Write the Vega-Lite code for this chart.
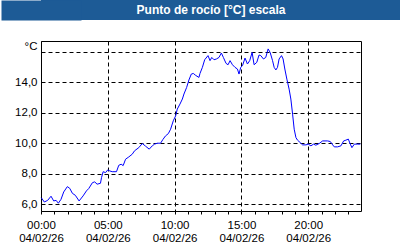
{
  "$schema": "https://vega.github.io/schema/vega-lite/v6.json",
  "background": "white",
  "padding": 0,
  "config": {"font": "Liberation Sans", "view": {"stroke": null}},
  "spacing": 20,
  "vconcat": [
    {
      "width": 360,
      "height": 20,
      "view": {"fill": "#1d5b96", "stroke": null},
      "data": {"values": [{"t": "Punto de rocío [°C] escala"}]},
      "mark": {"type": "text", "color": "white", "font": "Liberation Sans", "fontWeight": "bold", "fontSize": 12, "dx": -10, "baseline": "middle"},
      "encoding": {
        "text": {"field": "t"},
        "y": {
          "field": "t", "type": "nominal",
          "axis": {"title": null, "labels": false, "ticks": false, "domain": true, "domainColor": "#1d5b96", "domainWidth": 80, "minExtent": 40, "maxExtent": 40}
        }
      }
    },
    {
      "width": 320,
      "height": 170,
      "view": {"stroke": "#000", "strokeWidth": 1, "fill": "white"},
      "data": {"values": [
        {"hora": 0.02, "rocio": 6.43}, {"hora": 0.25, "rocio": 6.15}, {"hora": 0.50, "rocio": 6.26}, {"hora": 0.75, "rocio": 6.53},
        {"hora": 0.95, "rocio": 6.22}, {"hora": 1.13, "rocio": 6.26}, {"hora": 1.30, "rocio": 6.07}, {"hora": 1.50, "rocio": 6.33},
        {"hora": 1.70, "rocio": 6.81}, {"hora": 1.97, "rocio": 7.16}, {"hora": 2.15, "rocio": 7.05}, {"hora": 2.35, "rocio": 6.72},
        {"hora": 2.57, "rocio": 6.59}, {"hora": 2.85, "rocio": 6.22}, {"hora": 3.15, "rocio": 6.55}, {"hora": 3.40, "rocio": 6.88},
        {"hora": 3.57, "rocio": 7.03}, {"hora": 3.85, "rocio": 7.42}, {"hora": 4.02, "rocio": 7.47}, {"hora": 4.20, "rocio": 7.32},
        {"hora": 4.45, "rocio": 7.38}, {"hora": 4.53, "rocio": 7.75}, {"hora": 4.65, "rocio": 8.14}, {"hora": 4.83, "rocio": 8.08},
        {"hora": 5.00, "rocio": 8.26}, {"hora": 5.15, "rocio": 8.19}, {"hora": 5.33, "rocio": 8.14}, {"hora": 5.65, "rocio": 8.14},
        {"hora": 5.82, "rocio": 8.56}, {"hora": 6.00, "rocio": 8.63}, {"hora": 6.15, "rocio": 8.54}, {"hora": 6.33, "rocio": 8.96},
        {"hora": 6.57, "rocio": 9.11}, {"hora": 6.83, "rocio": 9.29}, {"hora": 7.00, "rocio": 9.51}, {"hora": 7.32, "rocio": 9.72},
        {"hora": 7.58, "rocio": 9.99}, {"hora": 7.82, "rocio": 9.82}, {"hora": 8.10, "rocio": 9.62}, {"hora": 8.33, "rocio": 9.84},
        {"hora": 8.50, "rocio": 9.95}, {"hora": 8.70, "rocio": 10.01}, {"hora": 8.95, "rocio": 10.01}, {"hora": 9.12, "rocio": 10.25},
        {"hora": 9.32, "rocio": 10.49}, {"hora": 9.53, "rocio": 10.64}, {"hora": 9.70, "rocio": 10.93}, {"hora": 9.90, "rocio": 11.48},
        {"hora": 10.08, "rocio": 11.81}, {"hora": 10.20, "rocio": 12.25}, {"hora": 10.40, "rocio": 12.58}, {"hora": 10.58, "rocio": 12.91},
        {"hora": 10.70, "rocio": 13.24}, {"hora": 10.90, "rocio": 13.67}, {"hora": 11.07, "rocio": 14.16}, {"hora": 11.25, "rocio": 14.55},
        {"hora": 11.40, "rocio": 14.59}, {"hora": 11.58, "rocio": 14.46}, {"hora": 11.82, "rocio": 14.33}, {"hora": 11.90, "rocio": 14.59},
        {"hora": 12.08, "rocio": 14.99}, {"hora": 12.25, "rocio": 15.49}, {"hora": 12.50, "rocio": 15.76}, {"hora": 12.65, "rocio": 15.43},
        {"hora": 12.78, "rocio": 15.64}, {"hora": 12.95, "rocio": 15.49}, {"hora": 13.13, "rocio": 15.54}, {"hora": 13.32, "rocio": 15.64},
        {"hora": 13.50, "rocio": 15.93}, {"hora": 13.65, "rocio": 15.64}, {"hora": 13.85, "rocio": 15.25}, {"hora": 14.00, "rocio": 15.16},
        {"hora": 14.15, "rocio": 15.43}, {"hora": 14.33, "rocio": 15.16}, {"hora": 14.52, "rocio": 14.99}, {"hora": 14.70, "rocio": 14.88},
        {"hora": 14.82, "rocio": 14.55}, {"hora": 14.95, "rocio": 14.99}, {"hora": 15.08, "rocio": 15.10}, {"hora": 15.27, "rocio": 15.60},
        {"hora": 15.45, "rocio": 15.21}, {"hora": 15.62, "rocio": 15.43}, {"hora": 15.80, "rocio": 15.97}, {"hora": 15.95, "rocio": 15.16},
        {"hora": 16.15, "rocio": 15.32}, {"hora": 16.32, "rocio": 15.80}, {"hora": 16.45, "rocio": 15.76}, {"hora": 16.65, "rocio": 15.54},
        {"hora": 16.82, "rocio": 15.64}, {"hora": 17.00, "rocio": 16.20}, {"hora": 17.15, "rocio": 15.97}, {"hora": 17.33, "rocio": 15.43},
        {"hora": 17.45, "rocio": 14.99}, {"hora": 17.58, "rocio": 14.82}, {"hora": 17.70, "rocio": 14.99}, {"hora": 17.82, "rocio": 15.54},
        {"hora": 18.00, "rocio": 15.76}, {"hora": 18.12, "rocio": 15.54}, {"hora": 18.25, "rocio": 14.88}, {"hora": 18.40, "rocio": 14.22},
        {"hora": 18.57, "rocio": 13.56}, {"hora": 18.70, "rocio": 12.91}, {"hora": 18.83, "rocio": 11.92}, {"hora": 18.95, "rocio": 10.93},
        {"hora": 19.08, "rocio": 10.38}, {"hora": 19.20, "rocio": 10.21}, {"hora": 19.40, "rocio": 10.05}, {"hora": 19.58, "rocio": 9.90},
        {"hora": 19.83, "rocio": 9.90}, {"hora": 20.00, "rocio": 9.95}, {"hora": 20.20, "rocio": 9.84}, {"hora": 20.40, "rocio": 9.95},
        {"hora": 20.57, "rocio": 9.88}, {"hora": 20.82, "rocio": 9.99}, {"hora": 21.08, "rocio": 10.16}, {"hora": 21.45, "rocio": 10.16},
        {"hora": 21.65, "rocio": 10.12}, {"hora": 21.83, "rocio": 9.90}, {"hora": 21.95, "rocio": 9.77}, {"hora": 22.20, "rocio": 9.77},
        {"hora": 22.45, "rocio": 9.84}, {"hora": 22.65, "rocio": 10.16}, {"hora": 22.82, "rocio": 10.21}, {"hora": 23.00, "rocio": 10.28},
        {"hora": 23.15, "rocio": 9.95}, {"hora": 23.27, "rocio": 9.72}, {"hora": 23.45, "rocio": 9.95}, {"hora": 23.70, "rocio": 9.95},
        {"hora": 23.90, "rocio": 9.95}
      ]},
      "mark": {"type": "line", "color": "#0000ff", "strokeWidth": 1},
      "encoding": {
        "x": {
          "field": "hora", "type": "quantitative",
          "scale": {"domain": [0, 23.95], "nice": false, "zero": false},
          "axis": {
            "title": null,
            "values": [0,1,2,3,4,5,6,7,8,9,10,11,12,13,14,15,16,17,18,19,20,21,22,23],
            "domain": false,
            "ticks": true, "tickSize": 3, "tickColor": "#000", "tickWidth": 1,
            "grid": true, "gridColor": "#000", "gridDash": [4, 3], "gridWidth": 1,
            "gridOpacity": {"condition": {"test": "datum.value % 5 == 0", "value": 1}, "value": 0},
            "labelExpr": "datum.value % 5 == 0 ? [(datum.value < 10 ? '0' : '') + datum.value + ':00', '04/02/26'] : ''",
            "labelFont": "Liberation Sans", "labelFontSize": 11.5, "labelColor": "#000",
            "labelPadding": 5, "labelLineHeight": 13, "labelOverlap": false, "labelFlush": false
          }
        },
        "y": {
          "field": "rocio", "type": "quantitative",
          "scale": {"domain": [5.56, 16.72], "nice": false, "zero": false},
          "axis": {
            "title": null,
            "values": [6, 8, 10, 12, 14, 16],
            "ticks": false, "domain": false,
            "grid": true, "gridColor": "#000", "gridDash": [4, 3], "gridWidth": 1,
            "labelExpr": "datum.value == 16 ? '°C' : replace(format(datum.value, '.1f'), '.', ',')",
            "labelOffset": {"condition": {"test": "datum.value == 16", "value": -5}, "value": 0},
            "labelFont": "Liberation Sans", "labelFontSize": 11.5, "labelColor": "#000",
            "labelPadding": 4, "minExtent": 40, "maxExtent": 40
          }
        }
      }
    }
  ]
}
